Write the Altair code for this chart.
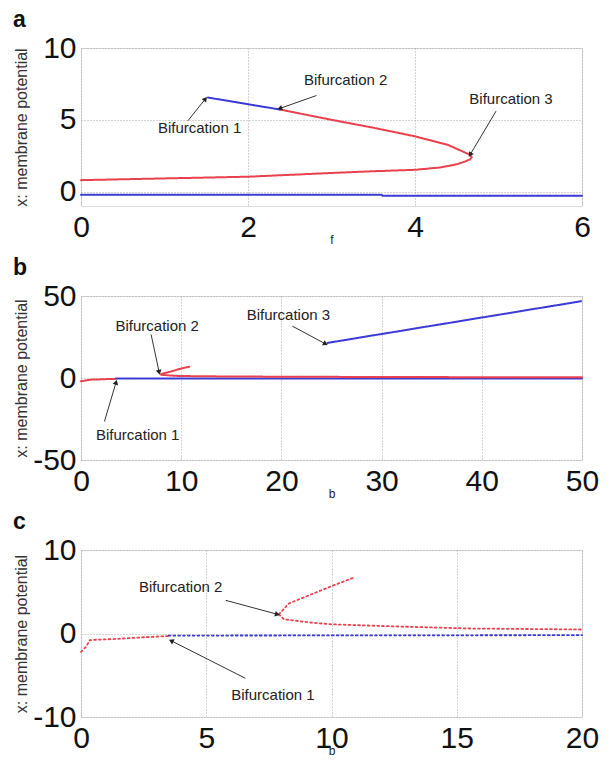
import math
import altair as alt
import pandas as pd

# ---------------- data ----------------
# Panel a (x axis: f)
a_blue_low_f = [0, 3.6, 3.61, 6]
a_blue_low_x = [-0.22, -0.22, -0.28, -0.28]
a_red_f = [0, 1, 2, 3, 3.5, 4, 4.3, 4.5, 4.6, 4.66, 4.68, 4.66, 4.6, 4.4, 4.0, 3.5, 3.0, 2.38]
a_red_x = [0.8, 0.92, 1.04, 1.3, 1.42, 1.52, 1.68, 1.9, 2.1, 2.25, 2.4, 2.55, 2.72, 3.24, 3.85, 4.45, 5.0, 5.72]
a_blue_up_f = [1.52, 2.38]
a_blue_up_x = [6.55, 5.72]

# Panel b (x axis: b)
b_red1_b = [0, 1, 3.5]
b_red1_x = [-2, -1, -0.5]
b_blue1_b = [3.5, 50]
b_blue1_x = [-0.3, -0.3]
b_red_low_b = [8, 9, 10, 15, 30, 50]
b_red_low_x = [2, 1.5, 1.2, 0.9, 0.6, 0.4]
b_red_up_b = [8, 9, 10, 10.9]
b_red_up_x = [2.5, 4, 5.8, 7]
b_blue2_b = [24.6, 50]
b_blue2_x = [21.4, 46.9]

# Panel c (x axis: b)
c_red1_b = [0, 0.2, 0.35, 0.6, 1.4, 2.5, 3.5]
c_red1_x = [-2.2, -1.6, -0.8, -0.75, -0.65, -0.45, -0.3]
c_blue_b = [3.5, 20]
c_blue_x = [-0.25, -0.2]
c_red_up_b = [7.9, 8.3, 9.2, 10.2, 10.9]
c_red_up_x = [2.3, 3.6, 4.7, 5.9, 6.7]
c_red_low_b = [7.9, 8.1, 9.2, 10, 12.3, 15.5, 20]
c_red_low_x = [2.3, 1.7, 1.3, 1.1, 0.87, 0.6, 0.48]

# annotations: label, text x, text y, arrow start x, y, arrow tip x, y
a_ann = [
    ("Bifurcation 1", 1.42, 4.4, 1.28, 4.93, 1.49, 6.46),
    ("Bifurcation 2", 3.17, 7.8, 2.82, 6.69, 2.38, 5.79),
    ("Bifurcation 3", 5.15, 6.46, 4.97, 5.6, 4.66, 2.57),
]
b_ann = [
    ("Bifurcation 1", 5.66, -34.7, 2.34, -26.5, 3.5, -2.6),
    ("Bifurcation 2", 7.6, 32.0, 7.0, 26.5, 7.8, 3.5),
    ("Bifurcation 3", 20.7, 38.4, 21.1, 31.6, 24.4, 20.8),
]
c_ann = [
    ("Bifurcation 2", 3.98, 5.56, 5.78, 3.97, 7.84, 2.3),
    ("Bifurcation 1", 7.66, -7.34, 6.56, -5.36, 3.6, -0.87),
]

RED = "#e8404c"
BLUE = "#3a3ad6"
W = 501
FONT = "Liberation Sans"


def lines_df(segs):
    rows = []
    for k, (xs, ys, col) in enumerate(segs):
        for i, (xv, yv) in enumerate(zip(xs, ys)):
            rows.append({"xv": xv, "yv": yv, "seg": k, "col": col, "i": i})
    return pd.DataFrame(rows)


def panel(segs, ann, xdom, ydom, xticks, yticks, H, letter, xtitle, dash, sw):
    xs = alt.Scale(domain=xdom, nice=False, zero=False)
    ys = alt.Scale(domain=ydom, nice=False, zero=False)
    xaxis = alt.Axis(values=xticks, title=xtitle, labelFontSize=30, labelFont=FONT,
                     labelPadding=6, labelFlush=False, labelOverlap=False, labelBound=False,
                     ticks=False, domain=False, titleFontSize=12, titleFont=FONT,
                     titleFontWeight="normal", titleY=33, titleBaseline="middle",
                     grid=True, gridColor="#a8a8a8", gridDash=[1, 2], gridWidth=1,
                     labelExpr="'' + datum.value", labelColor="#111", titleColor="#222")
    yaxis = alt.Axis(values=yticks, title="x: membrane potential", labelFontSize=30,
                     labelFont=FONT, labelPadding=5, labelFlush=False, labelOverlap=False,
                     labelBound=False, ticks=False, domain=False, titleFontSize=16,
                     titleFont=FONT, titleFontWeight="normal", titleX=-60, titleY=H / 2,
                     titleAngle=-90, titleBaseline="middle", titleAlign="center",
                     titleColor="#333", grid=True, gridColor="#a8a8a8", gridDash=[1, 2],
                     gridWidth=1, labelExpr="'' + datum.value", labelColor="#111")

    ld = lines_df(segs)
    lines = alt.Chart(ld).mark_line(strokeWidth=sw, strokeDash=dash, strokeCap="round").encode(
        x=alt.X("xv:Q", scale=xs, axis=xaxis),
        y=alt.Y("yv:Q", scale=ys, axis=yaxis),
        color=alt.Color("col:N", scale=None),
        detail="seg:N",
        order="i:Q",
    )

    pxx = W / (xdom[1] - xdom[0])
    pxy = H / (ydom[1] - ydom[0])
    arows = []
    for (t, tx, ty, sx, sy, ex, ey) in ann:
        dx = (ex - sx) * pxx
        dy = -(ey - sy) * pxy
        ang = math.degrees(math.atan2(dx, -dy)) % 360
        arows.append({"t": t, "tx": tx, "ty": ty, "sx": sx, "sy": sy, "ex": ex, "ey": ey, "ang": ang})
    ad = pd.DataFrame(arows)

    texts = alt.Chart(ad).mark_text(font=FONT, fontSize=15, color="#222").encode(
        x=alt.X("tx:Q", scale=xs), y=alt.Y("ty:Q", scale=ys), text="t:N")
    rules = alt.Chart(ad).mark_rule(color="#333", strokeWidth=1).encode(
        x=alt.X("sx:Q", scale=xs), y=alt.Y("sy:Q", scale=ys), x2="ex:Q", y2="ey:Q")
    heads = alt.Chart(ad).mark_point(shape="triangle-up", filled=True, color="#222",
                                     size=32, opacity=1).encode(
        x=alt.X("ex:Q", scale=xs), y=alt.Y("ey:Q", scale=ys), angle=alt.Angle("ang:Q", scale=None))
    let = alt.Chart(pd.DataFrame({"t": [letter]})).mark_text(
        font=FONT, fontSize=23, fontWeight="bold", align="left", baseline="alphabetic",
        color="#111").encode(text="t:N", x=alt.value(-68), y=alt.value(-21))

    return alt.layer(lines, rules, heads, texts, let).properties(width=W, height=H)


pa = panel([
    (a_blue_low_f, a_blue_low_x, BLUE),
    (a_red_f, a_red_x, RED),
    (a_blue_up_f, a_blue_up_x, BLUE),
], a_ann, [0, 6], [-1, 10], [0, 2, 4, 6], [0, 5, 10], 158, "a", "f", [2, 1], 2)

pb = panel([
    (b_red1_b, b_red1_x, RED),
    (b_blue1_b, b_blue1_x, BLUE),
    (b_red_low_b, b_red_low_x, RED),
    (b_red_up_b, b_red_up_x, RED),
    (b_blue2_b, b_blue2_x, BLUE),
], b_ann, [0, 50], [-50, 50], [0, 10, 20, 30, 40, 50], [-50, 0, 50], 164, "b", "b", [2, 1], 2)

pc = panel([
    (c_red1_b, c_red1_x, RED),
    (c_blue_b, c_blue_x, BLUE),
    (c_red_up_b, c_red_up_x, RED),
    (c_red_low_b, c_red_low_x, RED),
], c_ann, [0, 20], [-10, 10], [0, 5, 10, 15, 20], [-10, 0, 10], 167, "c", "b", [1.8, 3], 1.8)

chart = alt.vconcat(pa, pb, pc, spacing=90, bounds="flush").properties(
    padding={"left": 4, "top": 0, "right": 5, "bottom": 0}
).configure_view(stroke="#888", strokeWidth=1).configure(background="white")

chart.save("out.html", embed_options={"renderer": "svg", "actions": False})
